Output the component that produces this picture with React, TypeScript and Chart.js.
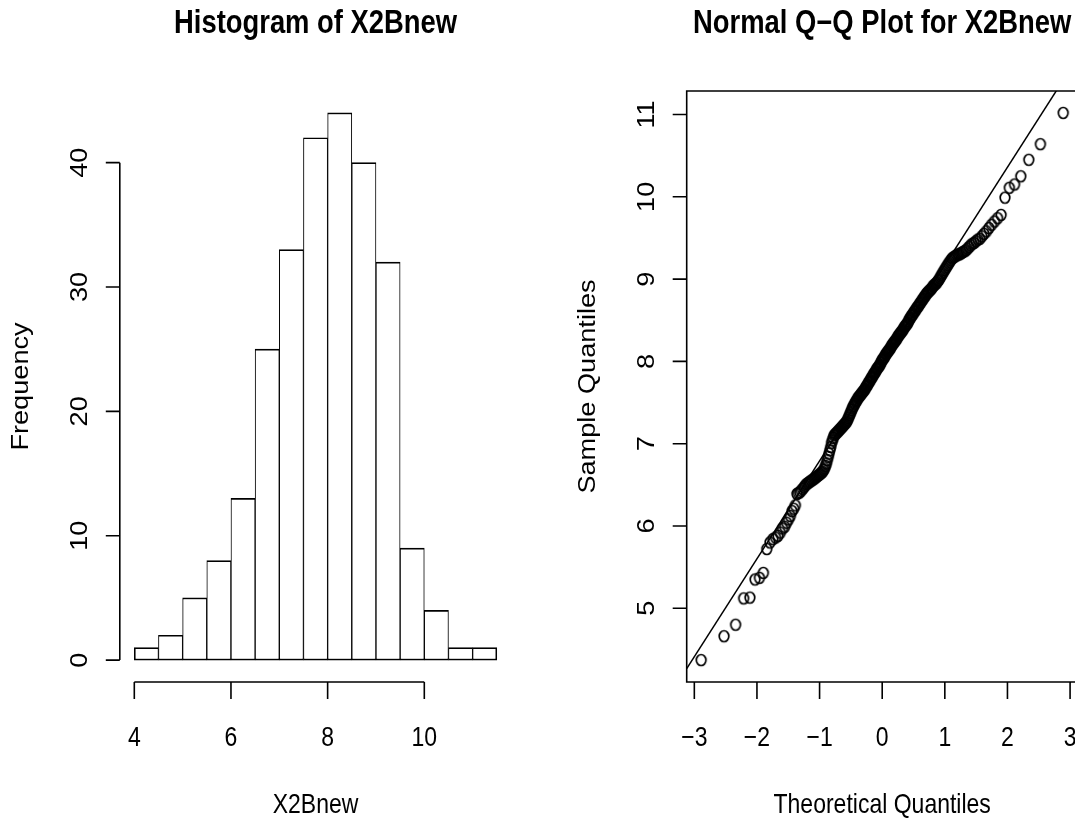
import React, { useEffect, useRef } from "react";
import { Chart, registerables } from "chart.js";

Chart.register(...registerables);

// ---------- data ----------
const binEdges = [4, 4.5, 5, 5.5, 6, 6.5, 7, 7.5, 8, 8.5, 9, 9.5, 10, 10.5, 11, 11.5];
const frequencies = [1, 2, 5, 8, 13, 25, 33, 42, 44, 40, 32, 9, 4, 1, 1];
const histXTicks = [4, 6, 8, 10];
const histYTicks = [0, 10, 20, 30, 40];

const sampleValues = [
  4.37,
  4.66, 4.8,
  5.12, 5.13, 5.35, 5.37, 5.43,
  5.72, 5.8, 5.84, 5.86, 5.88, 5.92, 5.97, 5.99,
  6.04, 6.08, 6.12, 6.18, 6.21, 6.25, 6.39, 6.4, 6.41, 6.43, 6.45, 6.47, 6.49,
  6.51, 6.52, 6.53, 6.54, 6.55, 6.56, 6.57, 6.58, 6.59, 6.6, 6.61, 6.62, 6.63, 6.64, 6.65, 6.66,
  6.68, 6.7, 6.73, 6.76, 6.8, 6.84, 6.88, 6.92, 6.96,
  7.01, 7.04, 7.07, 7.1, 7.11, 7.12, 7.13, 7.14, 7.15, 7.16, 7.17, 7.18, 7.19, 7.2, 7.21, 7.22,
  7.23, 7.24, 7.25, 7.26, 7.27, 7.29, 7.31, 7.33, 7.35, 7.37, 7.39, 7.41, 7.43, 7.45, 7.46, 7.48, 7.49,
  7.51, 7.52, 7.53, 7.55, 7.56, 7.57, 7.58, 7.59, 7.6, 7.61, 7.62, 7.63, 7.64, 7.65,
  7.66, 7.67, 7.69, 7.7, 7.71, 7.72, 7.74, 7.75, 7.76, 7.77, 7.79, 7.8, 7.81, 7.82,
  7.84, 7.85, 7.86, 7.87, 7.88, 7.9, 7.91, 7.92, 7.93, 7.94, 7.95, 7.96, 7.98, 7.99,
  8.01, 8.02, 8.03, 8.04, 8.05, 8.06, 8.08, 8.09, 8.1, 8.11,
  8.12, 8.13, 8.14, 8.15, 8.16, 8.17, 8.19, 8.2, 8.21, 8.22,
  8.23, 8.24, 8.25, 8.26, 8.27, 8.28, 8.3, 8.31, 8.32, 8.33,
  8.34, 8.35, 8.36, 8.37, 8.38, 8.39, 8.41, 8.42, 8.43, 8.44,
  8.45, 8.46, 8.47, 8.49,
  8.51, 8.52, 8.53, 8.55, 8.56, 8.57, 8.58, 8.6, 8.61, 8.62,
  8.63, 8.65, 8.66, 8.67, 8.68, 8.7, 8.71, 8.72, 8.74, 8.75,
  8.76, 8.78, 8.79, 8.8, 8.82, 8.83, 8.84, 8.85, 8.86, 8.87,
  8.88, 8.89, 8.91, 8.92, 8.93, 8.94, 8.95, 8.96, 8.98, 8.99,
  9.01, 9.03, 9.05, 9.07, 9.09, 9.11, 9.13, 9.15, 9.17, 9.19,
  9.21, 9.23, 9.25, 9.26, 9.27, 9.28, 9.29, 9.3, 9.3, 9.31,
  9.32, 9.33, 9.34, 9.35, 9.37, 9.39, 9.41, 9.43, 9.44, 9.46,
  9.48, 9.49,
  9.52, 9.55, 9.58, 9.62, 9.66, 9.7, 9.74, 9.78, 9.99,
  10.11, 10.15, 10.25, 10.45,
  10.64,
  11.02,
];
const qqXTicks = [-3, -2, -1, 0, 1, 2, 3];
const qqYTicks = [5, 6, 7, 8, 9, 10, 11];

// ---------- helpers ----------
const FONT = "'Liberation Sans', 'Nimbus Sans', Arial, Helvetica, sans-serif";
const SY = 1.18;
const TITLE_FONT = `bold 27.4px ${FONT}`;
const TEXT_FONT = `23px ${FONT}`;

function qnorm(p: number): number {
  const a = [-3.969683028665376e1, 2.209460984245205e2, -2.759285104469687e2, 1.38357751867269e2, -3.066479806614716e1, 2.506628277459239];
  const b = [-5.447609879822406e1, 1.615858368580409e2, -1.556989798598866e2, 6.680131188771972e1, -1.328068155288572e1];
  const c = [-7.784894002430293e-3, -3.223964580411365e-1, -2.400758277161838, -2.549732539343734, 4.374664141464968, 2.938163982698783];
  const d = [7.784695709041462e-3, 3.224671290700398e-1, 2.445134137142996, 3.754408661907416];
  const pl = 0.02425;
  if (p < pl) {
    const q = Math.sqrt(-2 * Math.log(p));
    return (((((c[0] * q + c[1]) * q + c[2]) * q + c[3]) * q + c[4]) * q + c[5]) / ((((d[0] * q + d[1]) * q + d[2]) * q + d[3]) * q + 1);
  }
  if (p <= 1 - pl) {
    const q = p - 0.5;
    const r = q * q;
    return ((((((a[0] * r + a[1]) * r + a[2]) * r + a[3]) * r + a[4]) * r + a[5]) * q) / (((((b[0] * r + b[1]) * r + b[2]) * r + b[3]) * r + b[4]) * r + 1);
  }
  const q = Math.sqrt(-2 * Math.log(1 - p));
  return -(((((c[0] * q + c[1]) * q + c[2]) * q + c[3]) * q + c[4]) * q + c[5]) / ((((d[0] * q + d[1]) * q + d[2]) * q + d[3]) * q + 1);
}

function quantile7(sorted: number[], p: number): number {
  const h = (sorted.length - 1) * p;
  const lo = Math.floor(h);
  const hi = Math.min(lo + 1, sorted.length - 1);
  return sorted[lo] + (h - lo) * (sorted[hi] - sorted[lo]);
}

function extend(lo: number, hi: number) {
  const e = (hi - lo) * 0.04;
  return [lo - e, hi + e];
}

function drawText(ctx: CanvasRenderingContext2D, s: string, x: number, y: number, font: string, rotate = false) {
  ctx.save();
  ctx.font = font;
  ctx.fillStyle = "#000";
  ctx.textAlign = "center";
  ctx.textBaseline = "alphabetic";
  ctx.translate(x, y);
  ctx.scale(1, SY);
  if (rotate) ctx.rotate(-Math.PI / 2);
  ctx.fillText(s, 0, 0);
  ctx.restore();
}

const fmt = (v: number) => (v < 0 ? "\u2212" + Math.abs(v) : String(v));

function rAxesPlugin(opts: { id: string; title: string; xlab: string; ylab: string; xTicks: number[]; yTicks: number[]; box: boolean }) {
  return {
    id: opts.id,
    afterDraw(chart: any) {
      const { ctx, chartArea: a, scales } = chart;
      const xs = scales.x;
      const ys = scales.y;
      ctx.save();
      ctx.strokeStyle = "#000";
      ctx.lineWidth = 1.6;
      ctx.lineCap = "butt";
      ctx.beginPath();
      if (opts.box) {
        ctx.rect(a.left, a.top, a.right - a.left, a.bottom - a.top);
      } else {
        ctx.moveTo(xs.getPixelForValue(opts.xTicks[0]), a.bottom);
        ctx.lineTo(xs.getPixelForValue(opts.xTicks[opts.xTicks.length - 1]), a.bottom);
        ctx.moveTo(a.left, ys.getPixelForValue(opts.yTicks[0]));
        ctx.lineTo(a.left, ys.getPixelForValue(opts.yTicks[opts.yTicks.length - 1]));
      }
      for (const t of opts.xTicks) {
        const px = xs.getPixelForValue(t);
        ctx.moveTo(px, a.bottom);
        ctx.lineTo(px, a.bottom + 17);
      }
      for (const t of opts.yTicks) {
        const py = ys.getPixelForValue(t);
        ctx.moveTo(a.left, py);
        ctx.lineTo(a.left - 14, py);
      }
      ctx.stroke();
      ctx.restore();

      for (const t of opts.xTicks) drawText(ctx, fmt(t), xs.getPixelForValue(t), a.bottom + 64, TEXT_FONT);
      for (const t of opts.yTicks) drawText(ctx, fmt(t), a.left - 33, ys.getPixelForValue(t), TEXT_FONT, true);
      const cx = (a.left + a.right) / 2;
      const cy = (a.top + a.bottom) / 2;
      drawText(ctx, opts.title, cx, a.top - 58, TITLE_FONT);
      drawText(ctx, opts.xlab, cx, a.bottom + 131, TEXT_FONT);
      drawText(ctx, opts.ylab, a.left - 92, cy, TEXT_FONT, true);
    },
  };
}

export default function App() {
  const leftRef = useRef<HTMLCanvasElement>(null);
  const rightRef = useRef<HTMLCanvasElement>(null);

  useEffect(() => {
    // ----- histogram -----
    const histData = frequencies.map((f, i) => ({ x: (binEdges[i] + binEdges[i + 1]) / 2, y: f }));
    const [hx0, hx1] = extend(binEdges[0], binEdges[binEdges.length - 1]);
    const [hy0, hy1] = extend(0, Math.max(...frequencies));
    const last = frequencies.length - 1;
    const hist = new Chart(leftRef.current!, {
      type: "bar",
      data: {
        datasets: [
          {
            data: histData as any,
            backgroundColor: "#fff",
            borderColor: "#000",
            borderSkipped: false,
            borderWidth: (c: any) => {
              const i = c.dataIndex;
              return { top: 1.6, bottom: 1.6, left: i === 0 ? 1.6 : 1, right: i === last ? 1.6 : 1 };
            },
            barPercentage: 1,
            categoryPercentage: 1,
          } as any,
        ],
      },
      options: {
        responsive: false,
        animation: false,
        devicePixelRatio: 1,
        events: [],
        layout: { padding: { left: 119.8, right: 540 - 511.3, top: 91, bottom: 136 } },
        plugins: { legend: { display: false }, tooltip: { enabled: false }, title: { display: false } },
        scales: {
          x: { type: "linear", min: hx0, max: hx1, offset: false, display: false, ticks: { stepSize: 0.5, includeBounds: false } },
          y: { type: "linear", min: hy0, max: hy1, display: false },
        },
      } as any,
      plugins: [
        rAxesPlugin({ id: "rHist", title: "Histogram of X2Bnew", xlab: "X2Bnew", ylab: "Frequency", xTicks: histXTicks, yTicks: histYTicks, box: false }),
      ],
    });

    // ----- normal Q-Q plot -----
    const sorted = [...sampleValues].sort((p, q) => p - q);
    const n = sorted.length;
    const theo = sorted.map((_, i) => qnorm((i + 1 - 0.5) / n));
    const qqPoints = sorted.map((v, i) => ({ x: theo[i], y: v }));
    const [qx0, qx1] = extend(theo[0], theo[n - 1]);
    const [qy0, qy1] = extend(sorted[0], sorted[n - 1]);
    const zq = qnorm(0.75);
    const y1 = quantile7(sorted, 0.25);
    const y3 = quantile7(sorted, 0.75);
    const slope = (y3 - y1) / (2 * zq);
    const intercept = y1 + slope * zq;
    const linePts = [qx0, qx1].map((x) => ({ x, y: intercept + slope * x }));

    const ring = document.createElement("canvas");
    ring.width = 14;
    ring.height = 16;
    const g = ring.getContext("2d")!;
    g.strokeStyle = "#000";
    g.lineWidth = 1.7;
    g.beginPath();
    g.ellipse(7, 8, 4.8, 5.5, 0, 0, Math.PI * 2);
    g.stroke();

    const qq = new Chart(rightRef.current!, {
      type: "scatter",
      data: {
        datasets: [
          {
            data: qqPoints,
            pointStyle: ring as any,
            pointRadius: 5,
            showLine: false,
            borderColor: "#000",
            backgroundColor: "transparent",
          },
          {
            data: linePts,
            showLine: true,
            pointRadius: 0,
            borderColor: "#000",
            borderWidth: 1.5,
            clip: 0,
          } as any,
        ],
      },
      options: {
        responsive: false,
        animation: false,
        devicePixelRatio: 1,
        events: [],
        layout: { padding: { left: 146.7, right: 560 - 537.7, top: 91, bottom: 136 } },
        plugins: { legend: { display: false }, tooltip: { enabled: false }, title: { display: false } },
        scales: {
          x: { type: "linear", min: qx0, max: qx1, display: false },
          y: { type: "linear", min: qy0, max: qy1, display: false },
        },
      } as any,
      plugins: [
        rAxesPlugin({ id: "rQQ", title: "Normal Q\u2212Q Plot for X2Bnew", xlab: "Theoretical Quantiles", ylab: "Sample Quantiles", xTicks: qqXTicks, yTicks: qqYTicks, box: true }),
      ],
    });

    return () => {
      hist.destroy();
      qq.destroy();
    };
  }, []);

  return (
    <div style={{ position: "absolute", left: 0, top: 0, width: 1075, height: 818, overflow: "hidden", background: "#fff" }}>
      <canvas ref={leftRef} width={540} height={818} style={{ position: "absolute", left: 0, top: 0 }} />
      <canvas ref={rightRef} width={560} height={818} style={{ position: "absolute", left: 540, top: 0 }} />
    </div>
  );
}
